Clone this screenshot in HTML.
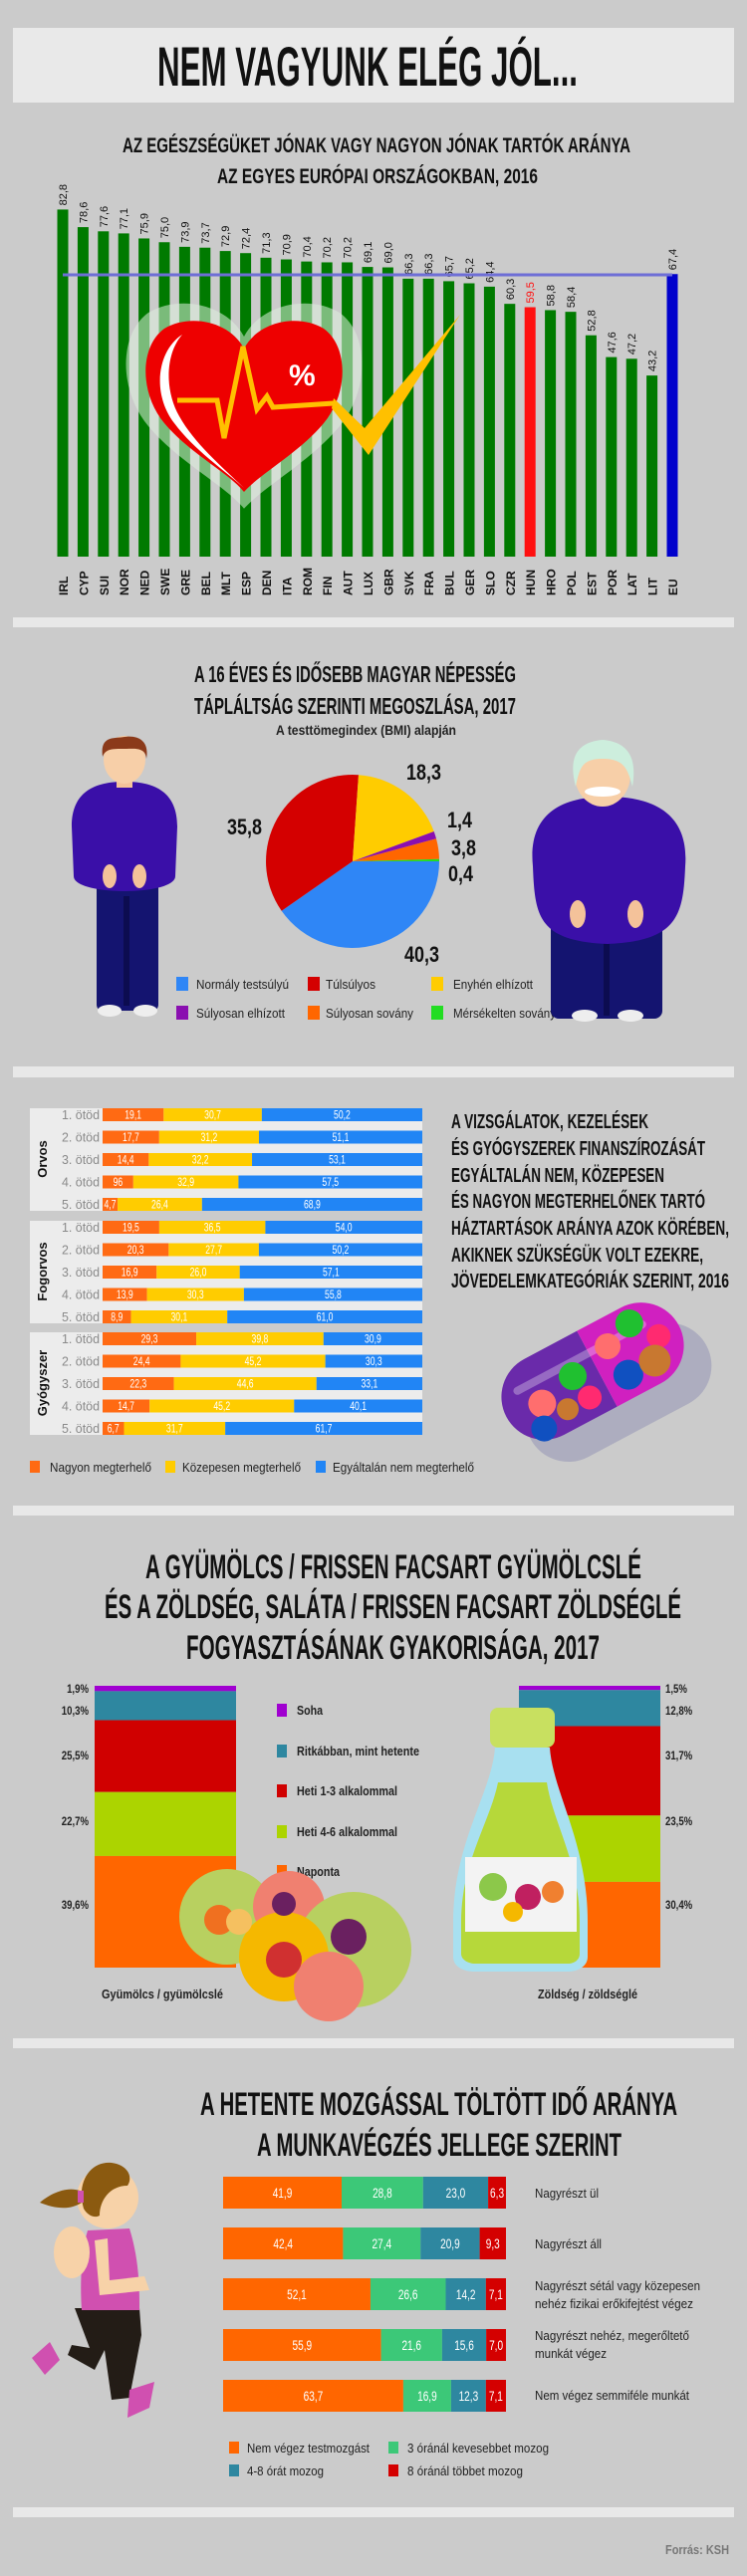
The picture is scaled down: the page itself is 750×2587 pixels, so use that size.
<!DOCTYPE html>
<html><head><meta charset="utf-8"><style>
html,body{margin:0;padding:0;background:#cbcbcb;}
svg{display:block;}
.t{font-family:"Liberation Sans Narrow","Liberation Sans",sans-serif;font-weight:bold;fill:#111;}
.n{font-family:"Liberation Sans Narrow","Liberation Sans",sans-serif;fill:#222;}
</style></head><body>
<svg width="750" height="2587" viewBox="0 0 750 2587" xmlns="http://www.w3.org/2000/svg">
<rect width="750" height="2587" fill="#cbcbcb"/>
<rect x="13" y="28" width="724" height="75" fill="#e9e9e9"/>
<text class="t" x="158" y="86" font-size="56" textLength="422" lengthAdjust="spacingAndGlyphs">NEM VAGYUNK ELÉG JÓL...</text>
<text class="t" x="123" y="153" font-size="21" textLength="510" lengthAdjust="spacingAndGlyphs">AZ EGÉSZSÉGÜKET JÓNAK VAGY NAGYON JÓNAK TARTÓK ARÁNYA</text>
<text class="t" x="218" y="184" font-size="21" textLength="322" lengthAdjust="spacingAndGlyphs">AZ EGYES EURÓPAI ORSZÁGOKBAN, 2016</text>
<g id="bars1"></g>
<g>
<path transform="translate(245,410) scale(1.2) translate(-245,-410)" d="M245,350 C230,322 190,315 165,330 C140,348 140,395 165,425 C190,455 230,475 245,494 C262,475 300,455 325,425 C350,395 350,348 325,330 C300,315 260,322 245,350Z" fill="#dff0df" opacity="0.55"/>
<path d="M245,350 C230,322 190,315 165,330 C140,348 140,395 165,425 C190,455 230,475 245,494 C262,475 300,455 325,425 C350,395 350,348 325,330 C300,315 260,322 245,350Z" fill="#ee0000"/>
<path d="M183,336 C158,352 152,395 175,425 C195,452 225,472 245,490 C222,468 195,445 180,418 C165,392 166,355 183,336Z" fill="#fff"/>
<polyline points="178,402 218,402 225,440 244,348 258,411 268,398 274,409 335,405" fill="none" stroke="#ffc000" stroke-width="5" stroke-linejoin="miter"/>
<path d="M335,400 L366,430 L462,316 L370,457 L333,410Z" fill="#ffc000"/>
<text x="290" y="387" font-size="30" font-weight="bold" font-family="Liberation Sans, sans-serif" fill="#fff">%</text>
</g>
<rect x="13" y="620" width="724" height="10" fill="#e8e8e8"/>
<rect x="13" y="1071" width="724" height="11" fill="#e8e8e8"/>
<rect x="13" y="1512" width="724" height="10" fill="#e8e8e8"/>
<rect x="13" y="2047" width="724" height="10" fill="#e8e8e8"/>
<rect x="13" y="2518" width="724" height="10" fill="#e8e8e8"/>
<text class="t" x="195" y="685" font-size="23" textLength="323" lengthAdjust="spacingAndGlyphs">A 16 ÉVES ÉS IDŐSEBB MAGYAR NÉPESSÉG</text>
<text class="t" x="195" y="717" font-size="23" textLength="323" lengthAdjust="spacingAndGlyphs">TÁPLÁLTSÁG SZERINTI MEGOSZLÁSA, 2017</text>
<text class="n" x="277" y="738" font-size="14" font-weight="bold" textLength="181" lengthAdjust="spacingAndGlyphs">A testtömegindex (BMI) alapján</text>
<path d="M354,865 L441,865 A87,87 0 0 1 282.7,914.8Z" fill="#2f86f6"/>
<path d="M354,865 L282.7,914.8 A87,87 0 0 1 360,778.2Z" fill="#d40000"/>
<path d="M354,865 L360,778.2 A87,87 0 0 1 435.7,835Z" fill="#ffcc00"/>
<path d="M354,865 L435.7,835 A87,87 0 0 1 438,842.3Z" fill="#8a0fb0"/>
<path d="M354,865 L438,842.3 A87,87 0 0 1 441,862.8Z" fill="#ff6600"/>
<path d="M354,865 L441,862.8 A87,87 0 0 1 441,865Z" fill="#22dd22"/>
<g class="t" font-size="22">
<text x="408" y="783" textLength="35" lengthAdjust="spacingAndGlyphs">18,3</text>
<text x="228" y="838" textLength="35" lengthAdjust="spacingAndGlyphs">35,8</text>
<text x="449" y="831" textLength="25" lengthAdjust="spacingAndGlyphs">1,4</text>
<text x="453" y="859" textLength="25" lengthAdjust="spacingAndGlyphs">3,8</text>
<text x="450" y="885" textLength="25" lengthAdjust="spacingAndGlyphs">0,4</text>
<text x="406" y="966" textLength="35" lengthAdjust="spacingAndGlyphs">40,3</text></g>
<g class="n" font-size="13">
<rect x="177" y="981" width="12" height="14" fill="#2f86f6"/><text x="197" y="993" textLength="93" lengthAdjust="spacingAndGlyphs">Normály testsúlyú</text>
<rect x="309" y="981" width="12" height="14" fill="#d40000"/><text x="327" y="993" textLength="50" lengthAdjust="spacingAndGlyphs">Túlsúlyos</text>
<rect x="433" y="981" width="12" height="14" fill="#ffcc00"/><text x="455" y="993" textLength="80" lengthAdjust="spacingAndGlyphs">Enyhén elhízott</text>
<rect x="177" y="1010" width="12" height="14" fill="#8a0fb0"/><text x="197" y="1022" textLength="89" lengthAdjust="spacingAndGlyphs">Súlyosan elhízott</text>
<rect x="309" y="1010" width="12" height="14" fill="#ff6600"/><text x="327" y="1022" textLength="88" lengthAdjust="spacingAndGlyphs">Súlyosan sovány</text>
<rect x="433" y="1010" width="12" height="14" fill="#22dd22"/><text x="455" y="1022" textLength="103" lengthAdjust="spacingAndGlyphs">Mérsékelten sovány</text></g>
<g>
<rect x="97" y="870" width="62" height="145" rx="6" fill="#141470"/>
<rect x="124" y="900" width="6" height="110" fill="#0c0c50"/>
<ellipse cx="110" cy="1015" rx="12" ry="6" fill="#eee"/><ellipse cx="146" cy="1015" rx="12" ry="6" fill="#eee"/>
<path d="M72,830 C72,795 95,785 125,785 C155,785 178,795 178,830 L176,880 C176,890 150,895 125,895 C100,895 74,890 74,880Z" fill="#3a0fa8"/>
<ellipse cx="110" cy="880" rx="7" ry="12" fill="#f4c29a"/><ellipse cx="140" cy="880" rx="7" ry="12" fill="#f4c29a"/>
<rect x="117" y="775" width="16" height="16" fill="#f4c29a"/>
<ellipse cx="125" cy="763" rx="21" ry="24" fill="#f7cfa8"/>
<path d="M103,760 C100,738 115,742 125,740 C140,738 150,745 147,762 C146,750 135,752 125,752 C112,752 106,752 103,760Z" fill="#8b3a1a"/>
</g>
<g>
<rect x="553" y="905" width="112" height="118" rx="8" fill="#141470"/>
<rect x="606" y="945" width="6" height="75" fill="#0c0c50"/>
<ellipse cx="587" cy="1020" rx="13" ry="6" fill="#eee"/><ellipse cx="633" cy="1020" rx="13" ry="6" fill="#eee"/>
<path d="M535,870 C530,820 560,800 610,800 C660,800 692,820 688,870 C686,920 680,945 610,948 C540,945 537,920 535,870Z" fill="#3a0fa8"/>
<ellipse cx="580" cy="918" rx="8" ry="14" fill="#f4c29a"/><ellipse cx="638" cy="918" rx="8" ry="14" fill="#f4c29a"/>
<ellipse cx="605" cy="778" rx="28" ry="32" fill="#f7cfa8"/>
<path d="M578,790 C570,760 580,745 605,743 C630,745 640,760 635,790 C630,770 625,762 605,762 C585,762 582,770 578,790Z" fill="#cdeedd"/>
<ellipse cx="605" cy="795" rx="18" ry="5" fill="#fff"/>
</g>
<g id="s3"></g>
<g class="t" font-size="20">
<text x="453" y="1133" textLength="198" lengthAdjust="spacingAndGlyphs">A VIZSGÁLATOK, KEZELÉSEK</text>
<text x="453" y="1160" textLength="255" lengthAdjust="spacingAndGlyphs">ÉS GYÓGYSZEREK FINANSZÍROZÁSÁT</text>
<text x="453" y="1187" textLength="214" lengthAdjust="spacingAndGlyphs">EGYÁLTALÁN NEM, KÖZEPESEN</text>
<text x="453" y="1213" textLength="255" lengthAdjust="spacingAndGlyphs">ÉS NAGYON MEGTERHELŐNEK TARTÓ</text>
<text x="453" y="1240" textLength="279" lengthAdjust="spacingAndGlyphs">HÁZTARTÁSOK ARÁNYA AZOK KÖRÉBEN,</text>
<text x="453" y="1267" textLength="253" lengthAdjust="spacingAndGlyphs">AKIKNEK SZÜKSÉGÜK VOLT EZEKRE,</text>
<text x="453" y="1293" textLength="279" lengthAdjust="spacingAndGlyphs">JÖVEDELEMKATEGÓRIÁK SZERINT, 2016</text></g>
<g transform="translate(595,1377) rotate(-28)">
<rect x="-95" y="-30" width="200" height="86" rx="43" fill="#9a9ab8" opacity="0.6" transform="translate(8,18)"/>
<path d="M5,-43 L-55,-43 A43,43 0 0 0 -55,43 L5,43Z" fill="#6a2aaa"/>
<path d="M5,-43 L55,-43 A43,43 0 0 1 55,43 L5,43Z" fill="#d020c0"/>
<rect x="-80" y="-22" width="150" height="8" rx="4" fill="#fff" opacity="0.3"/>
<circle cx="-60" cy="5" r="14" fill="#ff6e6e"/><circle cx="-40" cy="22" r="11" fill="#c87830"/><circle cx="-70" cy="28" r="13" fill="#1050c0"/>
<circle cx="-20" cy="-5" r="14" fill="#20c030"/><circle cx="-15" cy="22" r="12" fill="#ff2a70"/>
<circle cx="25" cy="-15" r="13" fill="#ff6e6e"/><circle cx="55" cy="-25" r="14" fill="#20c030"/><circle cx="75" cy="0" r="12" fill="#ff2a70"/>
<circle cx="30" cy="20" r="15" fill="#1050c0"/><circle cx="60" cy="20" r="16" fill="#c87830"/>
</g>
<text class="t" x="146" y="1585" font-size="34" textLength="498" lengthAdjust="spacingAndGlyphs">A GYÜMÖLCS / FRISSEN FACSART GYÜMÖLCSLÉ</text>
<text class="t" x="105" y="1625" font-size="34" textLength="579" lengthAdjust="spacingAndGlyphs">ÉS A ZÖLDSÉG, SALÁTA / FRISSEN FACSART ZÖLDSÉGLÉ</text>
<text class="t" x="187" y="1666" font-size="34" textLength="415" lengthAdjust="spacingAndGlyphs">FOGYASZTÁSÁNAK GYAKORISÁGA, 2017</text>
<g id="s4"></g>
<g class="n" font-size="13" font-weight="bold">
<rect x="278" y="1711" width="10" height="13" fill="#a000d0"/><text x="298" y="1722" textLength="26" lengthAdjust="spacingAndGlyphs">Soha</text>
<rect x="278" y="1752" width="10" height="13" fill="#2e87a0"/><text x="298" y="1763" textLength="123" lengthAdjust="spacingAndGlyphs">Ritkábban, mint hetente</text>
<rect x="278" y="1792" width="10" height="13" fill="#d00000"/><text x="298" y="1803" textLength="101" lengthAdjust="spacingAndGlyphs">Heti 1-3 alkalommal</text>
<rect x="278" y="1833" width="10" height="13" fill="#acd400"/><text x="298" y="1844" textLength="101" lengthAdjust="spacingAndGlyphs">Heti 4-6 alkalommal</text>
<rect x="278" y="1873" width="10" height="13" fill="#ff6600"/><text x="298" y="1884" textLength="43" lengthAdjust="spacingAndGlyphs">Naponta</text>
<text x="102" y="2007" textLength="122" lengthAdjust="spacingAndGlyphs">Gyümölcs / gyümölcslé</text>
<text x="540" y="2007" textLength="100" lengthAdjust="spacingAndGlyphs">Zöldség / zöldséglé</text></g>
<circle cx="228" cy="1925" r="48" fill="#b8d060"/>
<circle cx="290" cy="1915" r="36" fill="#f08070"/>
<circle cx="355" cy="1958" r="58" fill="#b8d060"/>
<circle cx="285" cy="1965" r="45" fill="#f5b800"/>
<circle cx="330" cy="1995" r="35" fill="#f08070"/>
<circle cx="220" cy="1928" r="15" fill="#f07020"/><circle cx="240" cy="1930" r="13" fill="#f5c060"/>
<circle cx="285" cy="1968" r="18" fill="#d03030"/><circle cx="350" cy="1945" r="18" fill="#6a2060"/><circle cx="285" cy="1912" r="12" fill="#6a2060"/>
<rect x="492" y="1715" width="65" height="40" rx="8" fill="#c8e060"/>
<path d="M497,1755 L552,1755 C555,1800 590,1850 590,1930 L590,1965 C590,1975 580,1980 570,1980 L477,1980 C465,1980 455,1975 455,1965 L455,1930 C455,1850 494,1800 497,1755Z" fill="#a8e0f0"/>
<path d="M500,1790 L549,1790 C555,1830 582,1870 582,1930 L582,1962 C582,1968 577,1972 570,1972 L477,1972 C470,1972 463,1968 463,1962 L463,1930 C463,1870 492,1830 500,1790Z" fill="#b6d83a"/>
<rect x="467" y="1865" width="112" height="75" fill="#f3f3f3"/>
<circle cx="495" cy="1895" r="14" fill="#8cc84a"/><circle cx="530" cy="1905" r="13" fill="#c02060"/><circle cx="555" cy="1900" r="11" fill="#f08030"/><circle cx="515" cy="1920" r="10" fill="#f5b800"/>
<text class="t" x="201" y="2124" font-size="32" textLength="479" lengthAdjust="spacingAndGlyphs">A HETENTE MOZGÁSSAL TÖLTÖTT IDŐ ARÁNYA</text>
<text class="t" x="258" y="2165" font-size="32" textLength="366" lengthAdjust="spacingAndGlyphs">A MUNKAVÉGZÉS JELLEGE SZERINT</text>
<g id="s5"></g>
<g class="n" font-size="13">
<text x="537" y="2207" textLength="64" lengthAdjust="spacingAndGlyphs">Nagyrészt ül</text>
<text x="537" y="2258" textLength="67" lengthAdjust="spacingAndGlyphs">Nagyrészt áll</text>
<text x="537" y="2300" textLength="166" lengthAdjust="spacingAndGlyphs">Nagyrészt sétál vagy közepesen</text>
<text x="537" y="2318" textLength="159" lengthAdjust="spacingAndGlyphs">nehéz fizikai erőkifejtést végez</text>
<text x="537" y="2350" textLength="155" lengthAdjust="spacingAndGlyphs">Nagyrészt nehéz, megerőltető</text>
<text x="537" y="2368" textLength="72" lengthAdjust="spacingAndGlyphs">munkát végez</text>
<text x="537" y="2410" textLength="155" lengthAdjust="spacingAndGlyphs">Nem végez semmiféle munkát</text>
<rect x="230" y="2452" width="10" height="12" fill="#ff6600"/><text x="248" y="2463" textLength="123" lengthAdjust="spacingAndGlyphs">Nem végez testmozgást</text>
<rect x="390" y="2452" width="10" height="12" fill="#3cc878"/><text x="409" y="2463" textLength="142" lengthAdjust="spacingAndGlyphs">3 óránál kevesebbet mozog</text>
<rect x="230" y="2475" width="10" height="12" fill="#2e87a0"/><text x="248" y="2486" textLength="77" lengthAdjust="spacingAndGlyphs">4-8 órát mozog</text>
<rect x="390" y="2475" width="10" height="12" fill="#d40000"/><text x="409" y="2486" textLength="116" lengthAdjust="spacingAndGlyphs">8 óránál többet mozog</text>
<text x="732" y="2565" text-anchor="end" fill="#777" font-weight="bold" textLength="64" lengthAdjust="spacingAndGlyphs">Forrás: KSH</text></g>
<g>
<path d="M75,2318 L140,2318 L142,2345 L130,2408 L112,2410 L105,2360 L95,2380 L68,2365 L72,2355 L90,2358Z" fill="#231c16"/>
<path d="M60,2370 L45,2385 L32,2368 L50,2352Z" fill="#d050b0"/>
<path d="M130,2400 L155,2392 L150,2418 L128,2428Z" fill="#d050b0"/>
<path d="M88,2240 L130,2238 C140,2270 140,2300 140,2320 L82,2320 C80,2290 82,2260 88,2240Z" fill="#d050b0"/>
<ellipse cx="72" cy="2262" rx="18" ry="26" fill="#f7d2a8"/>
<path d="M95,2250 L108,2248 L110,2290 L145,2286 L150,2300 L100,2305Z" fill="#f7d2a8"/>
<circle cx="108" cy="2207" r="31" fill="#f7d2a8"/>
<path d="M84,2218 C76,2190 92,2170 112,2172 C128,2174 134,2186 128,2195 C110,2195 100,2210 100,2225 C95,2228 88,2225 84,2218Z" fill="#8b5a10"/>
<path d="M80,2200 C65,2195 48,2205 40,2212 C55,2218 70,2220 82,2212Z" fill="#8b5a10"/>
<rect x="78" y="2200" width="6" height="12" fill="#d050b0"/>
</g>
</svg>
<script>
(function(){
var NS="http://www.w3.org/2000/svg";
function el(p,tag,a,txt){var e=document.createElementNS(NS,tag);for(var k in a)e.setAttribute(k,a[k]);if(txt!==undefined)e.textContent=txt;p.appendChild(e);return e;}
function narrow(e,f){try{var l=e.getComputedTextLength();e.setAttribute('textLength',(l*f).toFixed(1));e.setAttribute('lengthAdjust','spacingAndGlyphs');}catch(x){}}
var g=document.getElementById('bars1');
var v=[82.8,78.6,77.6,77.1,75.9,75.0,73.9,73.7,72.9,72.4,71.3,70.9,70.4,70.2,70.2,69.1,69.0,66.3,66.3,65.7,65.2,64.4,60.3,59.5,58.8,58.4,52.8,47.6,47.2,43.2,67.4];
var c="IRL CYP SUI NOR NED SWE GRE BEL MLT ESP DEN ITA ROM FIN AUT LUX GBR SVK FRA BUL GER SLO CZR HUN HRO POL EST POR LAT LIT EU".split(" ");
for(var i=0;i<31;i++){
 var cx=63+i*20.4,h=v[i]*4.21,top=559-h;
 var col=c[i]=="HUN"?"#ff1010":(c[i]=="EU"?"#0000cc":"#007a00");
 el(g,'rect',{x:cx-5.5,y:top,width:11,height:h,fill:col});
 el(g,'text',{x:0,y:0,transform:'translate('+(cx+4)+','+(top-4)+') rotate(-90)','font-size':11,'font-family':'Liberation Sans, sans-serif',fill:c[i]=="HUN"?"#ff1010":"#111"},v[i].toFixed(1).replace('.',','));
 el(g,'text',{x:0,y:0,transform:'translate('+(cx+5)+',598) rotate(-90)','font-size':12,'font-family':'Liberation Sans, sans-serif','font-weight':'bold',fill:'#111'},c[i]);
}
el(g,'rect',{x:63,y:274.5,width:612,height:3,fill:'#6e6ed6'});
var s=document.getElementById('s3');
var groups=[["Orvos",1113,[[19.1,30.7,50.2,"19,1","30,7","50,2"],[17.7,31.2,51.1,"17,7","31,2","51,1"],[14.4,32.2,53.1,"14,4","32,2","53,1"],[9.6,32.9,57.5,"96","32,9","57,5"],[4.7,26.4,68.9,"4,7","26,4","68,9"]]],
["Fogorvos",1226,[[19.5,36.5,54.0,"19,5","36,5","54,0"],[20.3,27.7,50.2,"20,3","27,7","50,2"],[16.9,26.0,57.1,"16,9","26,0","57,1"],[13.9,30.3,55.8,"13,9","30,3","55,8"],[8.9,30.1,61.0,"8,9","30,1","61,0"]]],
["Gyógyszer",1338,[[29.3,39.8,30.9,"29,3","39,8","30,9"],[24.4,45.2,30.3,"24,4","45,2","30,3"],[22.3,44.6,33.1,"22,3","44,6","33,1"],[14.7,45.2,40.1,"14,7","45,2","40,1"],[6.7,31.7,61.7,"6,7","31,7","61,7"]]]];
var cols=["#ff6a13","#ffcc00","#2185f5"];
groups.forEach(function(G){
 var y0=G[1];
 el(s,'rect',{x:30,y:y0,width:394,height:103,fill:'#ececec'});
 el(s,'text',{x:0,y:0,transform:'translate(47,'+(y0+51)+') rotate(-90)','text-anchor':'middle','font-size':13,'font-weight':'bold','font-family':'Liberation Sans, sans-serif',fill:'#111'},G[0]);
 G[2].forEach(function(r,j){
  var y=y0+j*22.5,sum=r[0]+r[1]+r[2],x=103;
  el(s,'text',{x:100,y:y+11,'text-anchor':'end','font-size':13,'font-family':'Liberation Sans, sans-serif',fill:'#8a8a8a',textLength:38,lengthAdjust:'spacingAndGlyphs'},(j+1)+". ötöd");
  for(var k=0;k<3;k++){var w=r[k]/sum*321;el(s,'rect',{x:x,y:y,width:w,height:13,fill:cols[k]});
   var t=el(s,'text',{x:x+w/2,y:y+10.5,'text-anchor':'middle','font-size':12,'font-family':'Liberation Sans, sans-serif',fill:'#fff'},r[3+k]);narrow(t,0.72);x+=w;}
 });
});
var L=[["Nagyon megterhelő",30,50,102],["Közepesen megterhelő",166,183,119],["Egyáltalán nem megterhelő",317,334,142]];
L.forEach(function(l,i){el(s,'rect',{x:l[1],y:1467,width:10,height:12,fill:cols[i]});el(s,'text',{x:l[2],y:1478,'font-size':13,'font-family':'Liberation Sans, sans-serif',fill:'#222',textLength:l[3],lengthAdjust:'spacingAndGlyphs'},l[0]);});
var s4=document.getElementById('s4');
var c4=["#a000d0","#2e87a0","#d00000","#acd400","#ff6600"];
function stack(x,vals,labels,lx,anchor){var y=1693,tot=vals.reduce(function(a,b){return a+b;},0);
 vals.forEach(function(vv,i){var h=vv/tot*283;el(s4,'rect',{x:x,y:y,width:142,height:h,fill:c4[i]});y+=h;});
 var ly=[1700,1722,1767,1833,1917];
 labels.forEach(function(t,i){var e=el(s4,'text',{x:lx,y:ly[i],'text-anchor':anchor,'font-size':12,'font-weight':'bold','font-family':'Liberation Sans, sans-serif',fill:'#222'},t);narrow(e,0.8);});}
stack(95,[1.9,10.3,25.5,22.7,39.6],["1,9%","10,3%","25,5%","22,7%","39,6%"],89,'end');
stack(521,[1.5,12.8,31.7,23.5,30.4],["1,5%","12,8%","31,7%","23,5%","30,4%"],668,'start');
var s5=document.getElementById('s5');
var c5=["#ff6600","#3cc878","#2e87a0","#d40000"];
var d5=[[41.9,28.8,23.0,6.3],[42.4,27.4,20.9,9.3],[52.1,26.6,14.2,7.1],[55.9,21.6,15.6,7.0],[63.7,16.9,12.3,7.1]];
var ys=[2186,2237,2288,2339,2390];
d5.forEach(function(r,j){var sum=r[0]+r[1]+r[2]+r[3],x=224;
 for(var k=0;k<4;k++){var w=r[k]/sum*284;el(s5,'rect',{x:x,y:ys[j],width:w,height:32,fill:c5[k]});
  var t=el(s5,'text',{x:x+w/2,y:ys[j]+21,'text-anchor':'middle','font-size':14,'font-family':'Liberation Sans, sans-serif',fill:'#fff'},r[k].toFixed(1).replace('.',','));narrow(t,0.72);x+=w;}
});
})();
</script>
</body></html>
